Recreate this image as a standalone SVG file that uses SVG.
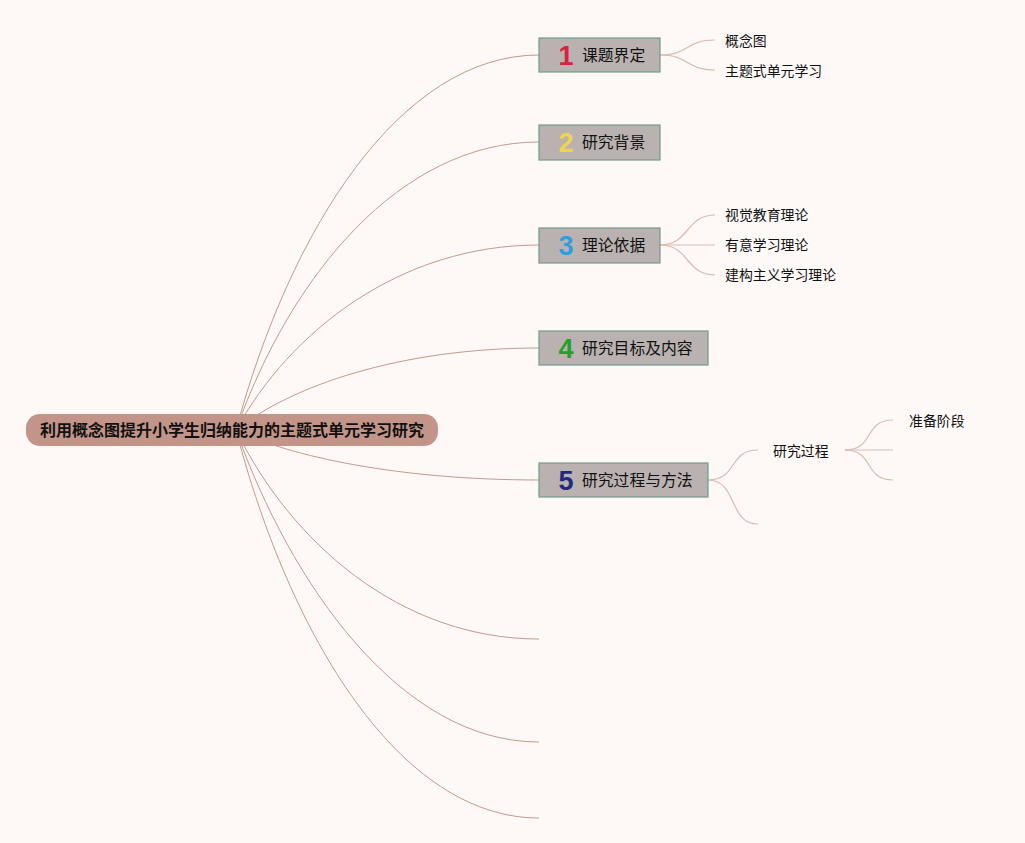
<svg xmlns="http://www.w3.org/2000/svg" width="1025" height="843" viewBox="0 0 1025 843">
<defs>
<style>
.bg{fill:#fef8f7}
.main{stroke:#c29b90;stroke-width:1;fill:none}
.sub{stroke:#d8bcb4;stroke-width:1.2;fill:none}
.root{fill:#c39588}
.rt{font-family:"Liberation Sans","Noto Sans CJK SC",sans-serif;font-size:16px;font-weight:bold;fill:#111}
.box{fill:#bab2b0;stroke:#6f9c8c;stroke-width:1.2}
.bt{font-family:"Liberation Sans","Noto Sans CJK SC",sans-serif;font-size:15.8px;fill:#111}
.num{font-family:"Liberation Sans","DejaVu Sans",sans-serif;font-size:27px;font-weight:bold}
.ct{font-family:"Liberation Sans","Noto Sans CJK SC",sans-serif;font-size:13.9px;fill:#111}
</style>
</defs>
<rect class="bg" x="0" y="0" width="1025" height="843"/>
<g id="connectors">
<path class="main" d="M236,430 C290,230 400,55 539,55"/>
<path class="main" d="M236,430 C290,276.5 400,142 539,142"/>
<path class="main" d="M236,430 C290,331.4 400,245 539,245"/>
<path class="main" d="M236,430 C290,386.3 400,348 539,348"/>
<path class="main" d="M236,430 C290,456.7 400,480 539,480"/>
<path class="main" d="M236,430 C290,541.4 400,639 539,639"/>
<path class="main" d="M236,430 C290,582.4 400,742 539,742"/>
<path class="main" d="M236,430 C290,636.8 400,818 539,818"/>
<path class="sub" d="M660,55 C690,55 685,40 715,40"/>
<path class="sub" d="M660,55 C690,55 685,70 715,70"/>
<path class="sub" d="M660,245 C690,245 685,215 715,215"/>
<path class="sub" d="M660,245 L715,245"/>
<path class="sub" d="M660,245 C690,245 685,275 715,275"/>
<path class="sub" d="M708,480 C738,480 728,450 758,450"/>
<path class="sub" d="M708,480 C738,480 728,524 758,524"/>
<path class="sub" d="M845,450 C875,450 863,420 893,420"/>
<path class="sub" d="M845,450 L893,450"/>
<path class="sub" d="M845,450 C875,450 863,480 893,480"/>
</g>
<g id="root">
<rect class="root" x="26" y="414" width="412" height="32" rx="14"/>
<text class="rt" x="232" y="436" text-anchor="middle">利用概念图提升小学生归纳能力的主题式单元学习研究</text>
</g>
<g id="n1">
<rect class="box" x="539" y="38" width="121" height="34"/>
<text class="num" x="566" y="65" text-anchor="middle" fill="#d8233a">1</text>
<text class="bt" x="582" y="61">课题界定</text>
</g>
<g id="n1a"><text class="ct" x="725" y="46">概念图</text></g>
<g id="n1b"><text class="ct" x="725" y="76">主题式单元学习</text></g>
<g id="n2">
<rect class="box" x="539" y="125" width="121" height="35"/>
<text class="num" x="566" y="152" text-anchor="middle" fill="#f0d54c">2</text>
<text class="bt" x="582" y="148">研究背景</text>
</g>
<g id="n3">
<rect class="box" x="539" y="228" width="121" height="35"/>
<text class="num" x="566" y="255" text-anchor="middle" fill="#2b9fe0">3</text>
<text class="bt" x="582" y="251">理论依据</text>
</g>
<g id="n3a"><text class="ct" x="725" y="220">视觉教育理论</text></g>
<g id="n3b"><text class="ct" x="725" y="250">有意学习理论</text></g>
<g id="n3c"><text class="ct" x="725" y="280">建构主义学习理论</text></g>
<g id="n4">
<rect class="box" x="539" y="331" width="169" height="34"/>
<text class="num" x="566" y="358" text-anchor="middle" fill="#22a12b">4</text>
<text class="bt" x="582" y="354">研究目标及内容</text>
</g>
<g id="n5">
<rect class="box" x="539" y="463" width="169" height="34"/>
<text class="num" x="566" y="490" text-anchor="middle" fill="#1f2a80">5</text>
<text class="bt" x="582" y="486">研究过程与方法</text>
</g>
<g id="n5a"><text class="ct" x="773" y="456">研究过程</text></g>
<g id="n5a1"><text class="ct" x="909" y="426">准备阶段</text></g>
</svg>
